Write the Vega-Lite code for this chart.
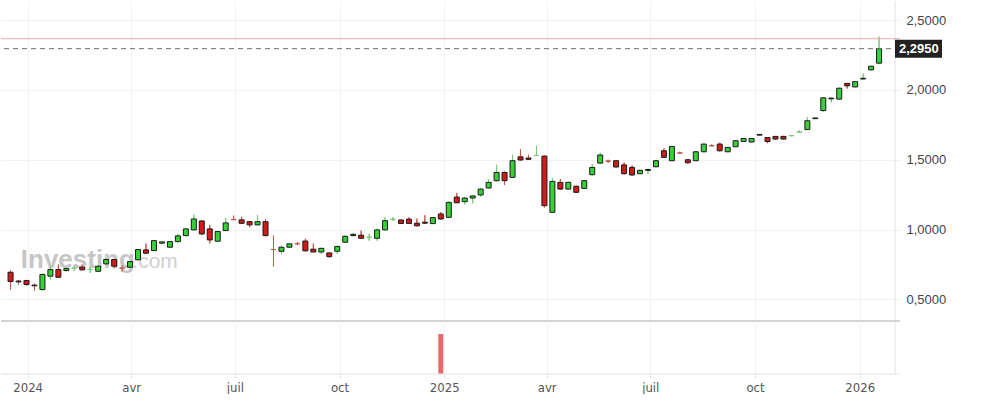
{
  "$schema": "https://vega.github.io/schema/vega-lite/v6.json",
  "padding": 0,
  "background": "white",
  "spacing": 0,
  "config": {
    "view": {"stroke": null},
    "axis": {"labelFont": "Liberation Sans"}
  },
  "datasets": {
    "ohlc": [
      {"d":"2023-12-17","o":0.695,"h":0.707,"l":0.569,"c":0.629},
      {"d":"2023-12-24","o":0.632,"h":0.640,"l":0.607,"c":0.626},
      {"d":"2023-12-31","o":0.636,"h":0.640,"l":0.600,"c":0.607},
      {"d":"2024-01-07","o":0.603,"h":0.614,"l":0.564,"c":0.598},
      {"d":"2024-01-14","o":0.571,"h":0.685,"l":0.565,"c":0.679},
      {"d":"2024-01-21","o":0.667,"h":0.736,"l":0.643,"c":0.714},
      {"d":"2024-01-28","o":0.714,"h":0.750,"l":0.655,"c":0.659},
      {"d":"2024-02-04","o":0.707,"h":0.728,"l":0.700,"c":0.721},
      {"d":"2024-02-11","o":0.724,"h":0.745,"l":0.705,"c":0.725},
      {"d":"2024-02-18","o":0.731,"h":0.750,"l":0.708,"c":0.712},
      {"d":"2024-02-25","o":0.714,"h":0.735,"l":0.690,"c":0.715},
      {"d":"2024-03-03","o":0.702,"h":0.742,"l":0.698,"c":0.738},
      {"d":"2024-03-10","o":0.755,"h":0.790,"l":0.750,"c":0.786},
      {"d":"2024-03-17","o":0.786,"h":0.790,"l":0.724,"c":0.738},
      {"d":"2024-03-24","o":0.725,"h":0.745,"l":0.700,"c":0.724},
      {"d":"2024-03-31","o":0.731,"h":0.775,"l":0.725,"c":0.771},
      {"d":"2024-04-07","o":0.784,"h":0.862,"l":0.780,"c":0.857},
      {"d":"2024-04-14","o":0.855,"h":0.900,"l":0.828,"c":0.831},
      {"d":"2024-04-21","o":0.850,"h":0.925,"l":0.845,"c":0.921},
      {"d":"2024-04-28","o":0.903,"h":0.915,"l":0.900,"c":0.912},
      {"d":"2024-05-05","o":0.874,"h":0.918,"l":0.870,"c":0.914},
      {"d":"2024-05-12","o":0.914,"h":0.969,"l":0.910,"c":0.955},
      {"d":"2024-05-19","o":0.957,"h":1.010,"l":0.952,"c":1.005},
      {"d":"2024-05-26","o":0.998,"h":1.107,"l":0.995,"c":1.076},
      {"d":"2024-06-02","o":1.062,"h":1.066,"l":0.962,"c":0.969},
      {"d":"2024-06-09","o":1.005,"h":1.034,"l":0.902,"c":0.926},
      {"d":"2024-06-16","o":0.917,"h":0.990,"l":0.912,"c":0.986},
      {"d":"2024-06-23","o":0.993,"h":1.083,"l":0.990,"c":1.048},
      {"d":"2024-06-30","o":1.072,"h":1.100,"l":1.070,"c":1.071},
      {"d":"2024-07-07","o":1.070,"h":1.093,"l":1.042,"c":1.045},
      {"d":"2024-07-14","o":1.057,"h":1.060,"l":1.017,"c":1.034},
      {"d":"2024-07-21","o":1.034,"h":1.105,"l":1.030,"c":1.057},
      {"d":"2024-07-28","o":1.057,"h":1.076,"l":0.952,"c":0.957},
      {"d":"2024-08-04","o":0.858,"h":0.957,"l":0.736,"c":0.857},
      {"d":"2024-08-11","o":0.845,"h":0.886,"l":0.825,"c":0.874},
      {"d":"2024-08-18","o":0.874,"h":0.900,"l":0.870,"c":0.898},
      {"d":"2024-08-25","o":0.899,"h":0.910,"l":0.888,"c":0.898},
      {"d":"2024-09-01","o":0.918,"h":0.934,"l":0.845,"c":0.848},
      {"d":"2024-09-08","o":0.860,"h":0.900,"l":0.838,"c":0.840},
      {"d":"2024-09-15","o":0.840,"h":0.870,"l":0.826,"c":0.866},
      {"d":"2024-09-22","o":0.833,"h":0.836,"l":0.798,"c":0.807},
      {"d":"2024-09-29","o":0.845,"h":0.885,"l":0.828,"c":0.879},
      {"d":"2024-10-06","o":0.910,"h":0.960,"l":0.905,"c":0.952},
      {"d":"2024-10-13","o":0.957,"h":0.975,"l":0.953,"c":0.966},
      {"d":"2024-10-20","o":0.960,"h":0.993,"l":0.935,"c":0.938},
      {"d":"2024-10-27","o":0.945,"h":0.970,"l":0.920,"c":0.946},
      {"d":"2024-11-03","o":0.938,"h":1.007,"l":0.921,"c":0.998},
      {"d":"2024-11-10","o":0.998,"h":1.088,"l":0.995,"c":1.064},
      {"d":"2024-11-17","o":1.073,"h":1.090,"l":1.062,"c":1.074},
      {"d":"2024-11-24","o":1.069,"h":1.072,"l":1.040,"c":1.044},
      {"d":"2024-12-01","o":1.075,"h":1.088,"l":1.040,"c":1.044},
      {"d":"2024-12-08","o":1.046,"h":1.079,"l":1.024,"c":1.027},
      {"d":"2024-12-15","o":1.053,"h":1.103,"l":1.040,"c":1.046},
      {"d":"2024-12-22","o":1.043,"h":1.090,"l":1.040,"c":1.086},
      {"d":"2024-12-29","o":1.112,"h":1.126,"l":1.072,"c":1.076},
      {"d":"2025-01-05","o":1.088,"h":1.200,"l":1.085,"c":1.195},
      {"d":"2025-01-12","o":1.233,"h":1.262,"l":1.190,"c":1.192},
      {"d":"2025-01-19","o":1.200,"h":1.232,"l":1.179,"c":1.226},
      {"d":"2025-01-26","o":1.226,"h":1.245,"l":1.188,"c":1.241},
      {"d":"2025-02-02","o":1.248,"h":1.295,"l":1.235,"c":1.290},
      {"d":"2025-02-09","o":1.298,"h":1.360,"l":1.295,"c":1.338},
      {"d":"2025-02-16","o":1.350,"h":1.464,"l":1.345,"c":1.409},
      {"d":"2025-02-23","o":1.409,"h":1.415,"l":1.319,"c":1.350},
      {"d":"2025-03-02","o":1.374,"h":1.536,"l":1.370,"c":1.493},
      {"d":"2025-03-09","o":1.521,"h":1.576,"l":1.495,"c":1.498},
      {"d":"2025-03-16","o":1.512,"h":1.536,"l":1.500,"c":1.503},
      {"d":"2025-03-23","o":1.530,"h":1.600,"l":1.528,"c":1.531},
      {"d":"2025-03-30","o":1.526,"h":1.530,"l":1.159,"c":1.171},
      {"d":"2025-04-06","o":1.124,"h":1.369,"l":1.120,"c":1.345},
      {"d":"2025-04-13","o":1.338,"h":1.362,"l":1.285,"c":1.290},
      {"d":"2025-04-20","o":1.290,"h":1.342,"l":1.285,"c":1.338},
      {"d":"2025-04-27","o":1.310,"h":1.315,"l":1.262,"c":1.267},
      {"d":"2025-05-04","o":1.295,"h":1.355,"l":1.290,"c":1.350},
      {"d":"2025-05-11","o":1.393,"h":1.469,"l":1.388,"c":1.445},
      {"d":"2025-05-18","o":1.476,"h":1.550,"l":1.470,"c":1.534},
      {"d":"2025-05-25","o":1.491,"h":1.500,"l":1.478,"c":1.490},
      {"d":"2025-06-01","o":1.493,"h":1.497,"l":1.445,"c":1.448},
      {"d":"2025-06-08","o":1.463,"h":1.480,"l":1.395,"c":1.400},
      {"d":"2025-06-15","o":1.445,"h":1.460,"l":1.386,"c":1.391},
      {"d":"2025-06-22","o":1.400,"h":1.430,"l":1.396,"c":1.424},
      {"d":"2025-06-29","o":1.424,"h":1.436,"l":1.398,"c":1.430},
      {"d":"2025-07-06","o":1.450,"h":1.497,"l":1.445,"c":1.493},
      {"d":"2025-07-13","o":1.564,"h":1.581,"l":1.512,"c":1.517},
      {"d":"2025-07-20","o":1.493,"h":1.598,"l":1.490,"c":1.595},
      {"d":"2025-07-27","o":1.549,"h":1.557,"l":1.543,"c":1.548},
      {"d":"2025-08-03","o":1.500,"h":1.505,"l":1.470,"c":1.479},
      {"d":"2025-08-10","o":1.493,"h":1.560,"l":1.490,"c":1.557},
      {"d":"2025-08-17","o":1.557,"h":1.615,"l":1.554,"c":1.612},
      {"d":"2025-08-24","o":1.601,"h":1.610,"l":1.595,"c":1.600},
      {"d":"2025-08-31","o":1.612,"h":1.622,"l":1.560,"c":1.564},
      {"d":"2025-09-07","o":1.557,"h":1.591,"l":1.554,"c":1.588},
      {"d":"2025-09-14","o":1.593,"h":1.640,"l":1.590,"c":1.636},
      {"d":"2025-09-21","o":1.631,"h":1.655,"l":1.628,"c":1.652},
      {"d":"2025-09-28","o":1.627,"h":1.657,"l":1.624,"c":1.652},
      {"d":"2025-10-05","o":1.676,"h":1.684,"l":1.672,"c":1.681},
      {"d":"2025-10-12","o":1.659,"h":1.662,"l":1.618,"c":1.630},
      {"d":"2025-10-19","o":1.667,"h":1.670,"l":1.645,"c":1.648},
      {"d":"2025-10-26","o":1.667,"h":1.671,"l":1.645,"c":1.648},
      {"d":"2025-11-02","o":1.672,"h":1.676,"l":1.668,"c":1.673},
      {"d":"2025-11-09","o":1.698,"h":1.710,"l":1.692,"c":1.699},
      {"d":"2025-11-16","o":1.716,"h":1.805,"l":1.712,"c":1.779},
      {"d":"2025-11-23","o":1.794,"h":1.800,"l":1.792,"c":1.799},
      {"d":"2025-11-30","o":1.852,"h":1.945,"l":1.843,"c":1.943},
      {"d":"2025-12-07","o":1.936,"h":1.944,"l":1.910,"c":1.941},
      {"d":"2025-12-14","o":1.934,"h":2.015,"l":1.930,"c":2.012},
      {"d":"2025-12-21","o":2.046,"h":2.050,"l":2.009,"c":2.029},
      {"d":"2025-12-28","o":2.021,"h":2.062,"l":2.018,"c":2.059},
      {"d":"2026-01-04","o":2.078,"h":2.117,"l":2.075,"c":2.083},
      {"d":"2026-01-11","o":2.143,"h":2.172,"l":2.140,"c":2.169},
      {"d":"2026-01-18","o":2.191,"h":2.380,"l":2.188,"c":2.295}
    ],
    "vol": [
      {"d":"2024-12-29","v":102}
    ]
  },
  "vconcat": [
    {
      "width": 899,
      "height": 320,
      "layer": [
        {
          "data": {"name": "ohlc"},
          "mark": {"type": "rule", "strokeWidth": 1},
          "encoding": {
            "x": {
              "field": "d", "type": "temporal", "title": null,
              "scale": {"type": "utc", "domain": [{"year":2023,"month":12,"date":13,"utc":true},{"year":2026,"month":2,"date":1,"utc":true}]},
              "axis": {
                "values": [
                  {"year":2024,"month":1,"date":1,"utc":true},{"year":2024,"month":4,"date":1,"utc":true},{"year":2024,"month":7,"date":1,"utc":true},{"year":2024,"month":10,"date":1,"utc":true},
                  {"year":2025,"month":1,"date":1,"utc":true},{"year":2025,"month":4,"date":1,"utc":true},{"year":2025,"month":7,"date":1,"utc":true},{"year":2025,"month":10,"date":1,"utc":true},
                  {"year":2026,"month":1,"date":1,"utc":true}
                ],
                "labels": false, "ticks": false, "domain": false, "grid": true, "gridColor": "#f3f3f3", "title": null
              }
            },
            "y": {
              "field": "l", "type": "quantitative", "title": null,
              "scale": {"domain": [0.346, 2.636], "nice": false, "zero": false},
              "axis": {
                "orient": "right", "values": [0.5, 1, 1.5, 2, 2.5],
                "labelExpr": "replace(format(datum.value, '.4f'), '.', ',')",
                "grid": true, "gridColor": "#f1f1f1", "ticks": false, "domain": false,
                "labelPadding": 6, "labelFontSize": 13, "labelColor": "#444444", "labelFont": "Liberation Sans", "title": null
              }
            },
            "y2": {"field": "h"},
            "color": {"condition": {"test": "datum.c >= datum.o", "value": "#7cc77c"}, "value": "#bf5a4c"}
          }
        },
        {
          "data": {"values": [{}]},
          "mark": {"type": "rule", "color": "#e2e2e2", "strokeWidth": 1},
          "encoding": {"x": {"datum": {"year":2026,"month":2,"date":1,"utc":true}, "type": "temporal"}}
        },
        {
          "data": {"values": [{}]},
          "mark": {"type": "rule", "color": "#c6c6c6", "strokeWidth": 1.5},
          "encoding": {"y": {"datum": 0.346, "type": "quantitative"}}
        },
        {
          "data": {"values": [{}]},
          "mark": {"type": "text", "text": "Investing", "font": "Liberation Sans", "fontSize": 26, "fontWeight": "bold", "color": "#bdbdbd", "opacity": 0.85, "align": "left", "baseline": "alphabetic"},
          "encoding": {
            "x": {"datum": {"year":2023,"month":12,"date":26,"utc":true}, "type": "temporal"},
            "y": {"datum": 0.723, "type": "quantitative"}
          }
        },
        {
          "data": {"values": [{}]},
          "mark": {"type": "text", "text": ".com", "font": "Liberation Sans", "fontSize": 21, "color": "#cfcfcf", "align": "left", "baseline": "alphabetic"},
          "encoding": {
            "x": {"datum": {"year":2024,"month":4,"date":2,"utc":true}, "type": "temporal"},
            "y": {"datum": 0.723, "type": "quantitative"}
          }
        },
        {
          "data": {"name": "ohlc"},
          "mark": {"type": "rule", "strokeWidth": 1},
          "encoding": {
            "x": {"field": "d", "type": "temporal", "title": null},
            "y": {"field": "l", "type": "quantitative", "title": null},
            "y2": {"field": "h"},
            "color": {"condition": {"test": "datum.c >= datum.o", "value": "#7cc77c"}, "value": "#bf5a4c"}
          }
        },
        {
          "data": {"name": "ohlc"},
          "mark": {"type": "bar", "size": 5, "strokeWidth": 1},
          "encoding": {
            "x": {"field": "d", "type": "temporal", "title": null},
            "y": {"field": "o", "type": "quantitative", "title": null},
            "y2": {"field": "c"},
            "fill": {"condition": {"test": "datum.c >= datum.o", "value": "#38d038"}, "value": "#d21a1a"},
            "stroke": {
              "condition": [
                {"test": "abs(datum.c - datum.o) < 0.002 && datum.c > datum.o", "value": "#7cc77c"},
                {"test": "abs(datum.c - datum.o) < 0.002", "value": "#bf5a4c"}
              ],
              "value": "#1a1a1a"
            }
          }
        },
        {
          "data": {"values": [{}]},
          "mark": {"type": "rule", "color": "#f3a8a8", "strokeWidth": 1},
          "encoding": {"y": {"datum": 2.366, "type": "quantitative"}}
        },
        {
          "data": {"values": [{}]},
          "mark": {"type": "rule", "color": "#6e6e6e", "strokeWidth": 1, "strokeDash": [5, 4]},
          "encoding": {"y": {"datum": 2.295, "type": "quantitative"}}
        },
        {
          "data": {"values": [{}]},
          "mark": {"type": "point", "shape": "M0,-0.45L2.35,-0.45L2.35,0.45L0,0.45Z", "size": 1600, "filled": true, "color": "#222222", "opacity": 1, "strokeWidth": 0},
          "encoding": {
            "x": {"datum": {"year":2026,"month":2,"date":1,"utc":true}, "type": "temporal"},
            "y": {"datum": 2.295, "type": "quantitative"}
          }
        },
        {
          "data": {"values": [{}]},
          "mark": {"type": "text", "text": "2,2950", "font": "Liberation Sans", "fontSize": 13, "fontWeight": "bold", "color": "#ffffff", "align": "left", "baseline": "middle", "dx": 4},
          "encoding": {
            "x": {"datum": {"year":2026,"month":2,"date":1,"utc":true}, "type": "temporal"},
            "y": {"datum": 2.295, "type": "quantitative"}
          }
        }
      ]
    },
    {
      "width": 899,
      "height": 51,
      "layer": [
        {
          "data": {"name": "vol"},
          "mark": {"type": "bar", "size": 5, "color": "#e36a6a"},
          "encoding": {
            "x": {
              "field": "d", "type": "temporal", "title": null,
              "scale": {"type": "utc", "domain": [{"year":2023,"month":12,"date":13,"utc":true},{"year":2026,"month":2,"date":1,"utc":true}]},
              "axis": {
                "values": [
                  {"year":2024,"month":1,"date":1,"utc":true},{"year":2024,"month":4,"date":1,"utc":true},{"year":2024,"month":7,"date":1,"utc":true},{"year":2024,"month":10,"date":1,"utc":true},
                  {"year":2025,"month":1,"date":1,"utc":true},{"year":2025,"month":4,"date":1,"utc":true},{"year":2025,"month":7,"date":1,"utc":true},{"year":2025,"month":10,"date":1,"utc":true},
                  {"year":2026,"month":1,"date":1,"utc":true}
                ],
                "labelExpr": "utcmonth(datum.value) == 0 ? '' + utcyear(datum.value) : ['janv','févr','mars','avr','mai','juin','juil','août','sept','oct','nov','déc'][utcmonth(datum.value)]",
                "labelFont": "Liberation Sans Narrow, Arial Narrow, DejaVu Sans Condensed, Liberation Sans", "labelFontSize": 13, "labelColor": "#555555",
                "labelFlush": false, "labelOverlap": false,
                "grid": true, "gridColor": "#f3f3f3", "domain": false,
                "ticks": true, "tickColor": "#e0e0e0", "tickSize": 4, "labelPadding": 3, "title": null
              }
            },
            "y": {"field": "v", "type": "quantitative", "title": null, "scale": {"domain": [0, 130]}, "axis": null}
          }
        },
        {
          "data": {"values": [{}]},
          "mark": {"type": "rule", "color": "#e2e2e2", "strokeWidth": 1},
          "encoding": {"x": {"datum": {"year":2026,"month":2,"date":1,"utc":true}, "type": "temporal"}}
        },
        {
          "data": {"values": [{}]},
          "mark": {"type": "rule", "color": "#e2e2e2", "strokeWidth": 1},
          "encoding": {"y": {"datum": 0, "type": "quantitative"}}
        }
      ]
    }
  ]
}
